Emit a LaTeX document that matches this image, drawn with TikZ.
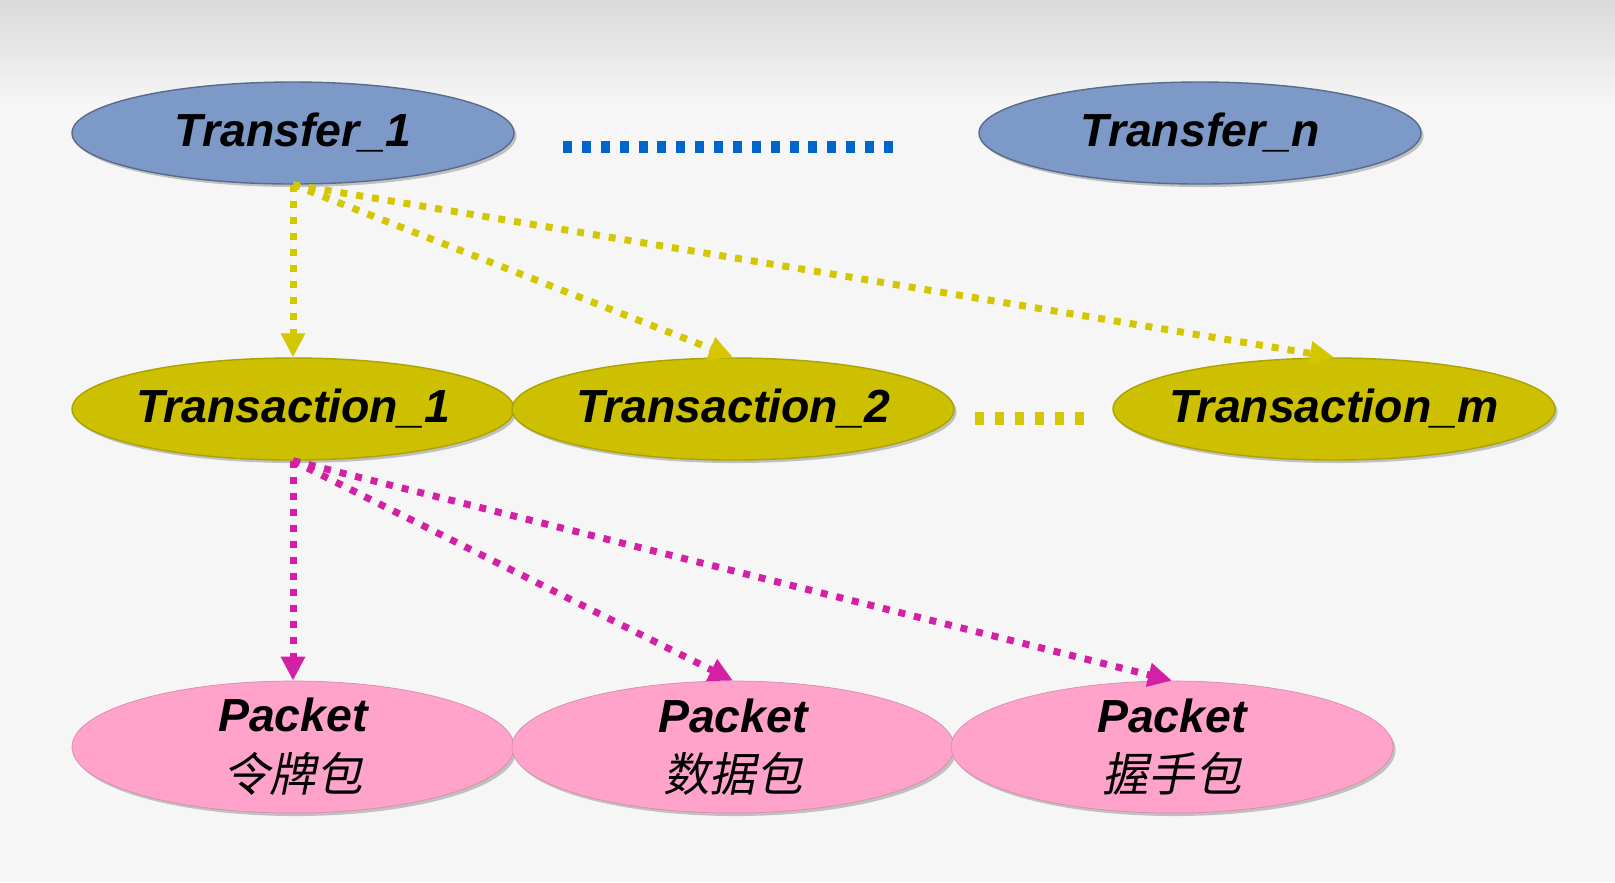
\documentclass[tikz,border=0pt]{standalone}
\usepackage{fontspec}
\setsansfont{Liberation Sans}
\newfontfamily\cjk{Noto Sans CJK SC}[FakeSlant=0.2]
\usepackage{tikz}
\definecolor{transblue}{RGB}{125,153,199}
\definecolor{transyellow}{RGB}{204,192,0}
\definecolor{packetpink}{RGB}{255,163,202}
\definecolor{dotblue}{RGB}{0,102,204}
\definecolor{dotyellow}{RGB}{212,198,0}
\definecolor{dotmagenta}{RGB}{212,32,164}
\definecolor{bgtop}{RGB}{218,218,218}
\definecolor{bgmain}{RGB}{246,246,246}
\usetikzlibrary{arrows.meta}
\usetikzlibrary{shapes}
\usetikzlibrary{shadows}

\begin{document}
\begin{tikzpicture}
        \tikzset{every node/.style={font=\fontsize{13.2}{17}\selectfont\sffamily\bfseries\itshape},
                oval/.style={ellipse, minimum width=4.42cm, minimum height=1.02cm, inner ysep=0pt, inner xsep=-0.15cm,
                        drop shadow={shadow xshift=0.025cm, shadow yshift=-0.03cm, opacity=0.45}},
                transfer/.style={oval, fill=transblue, draw=transblue!70!black, thin},
                transaction/.style={oval, fill=transyellow, draw=transyellow!85!black, thin},
                packet/.style={oval, fill=packetpink, draw=packetpink!85!black, very thin,
                        minimum height=1.32cm, inner ysep=-0.12cm, align=center},
                >={Triangle[length=0.24cm, width=0.23cm]},
                every edge/.style={draw, line width=0.07cm, dash pattern=on 0.07cm off 0.09cm}}

        \useasboundingbox (0, 0) rectangle (16.15, -8.82);
        \fill[bgmain] (0, 0) rectangle (16.15, -8.82);
        \fill[top color=bgtop, bottom color=bgmain] (0, 0) rectangle (16.15, -1.05);

        \node[transfer] (t1) at (2.93, -1.33) {Transfer\_1};
        \node[transfer] (tn) at (12.00, -1.33) {Transfer\_n};
        \node[transaction] (a1) at (2.93, -4.09) {Transaction\_1};
        \node[transaction] (a2) at (7.33, -4.09) {Transaction\_2};
        \node[transaction] (am) at (13.34, -4.09) {Transaction\_m};
        \node[packet] (p1) at (2.93, -7.47) {Packet\\{\cjk\mdseries\upshape 令牌包}};
        \node[packet] (p2) at (7.33, -7.47) {Packet\\{\cjk\mdseries\upshape 数据包}};
        \node[packet] (p3) at (11.72, -7.47) {Packet\\{\cjk\mdseries\upshape 握手包}};

        \draw[dotblue, line width=0.12cm, dash pattern=on 0.09cm off 0.0988cm] (5.63, -1.47) -- (8.93, -1.47);
        \draw[dotyellow, line width=0.13cm, dash pattern=on 0.085cm off 0.115cm] (9.75, -4.18) -- (10.85, -4.18);

        \path [->] (t1.south) edge[dotyellow] (a1.north);
        \path [->] (t1.south) edge[dotyellow] (a2.north);
        \path [->] (t1.south) edge[dotyellow] (am.north);
        \path [->] (a1.south) edge[dotmagenta] (p1.north);
        \path [->] (a1.south) edge[dotmagenta] (p2.north);
        \path [->] (a1.south) edge[dotmagenta] (p3.north);

    \end{tikzpicture}
\end{document}
